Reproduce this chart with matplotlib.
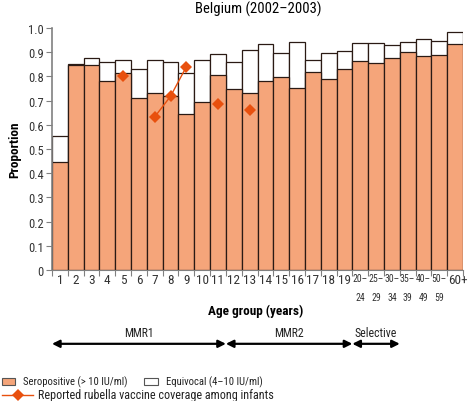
import numpy as np
import matplotlib
matplotlib.use('Agg')
import matplotlib.pyplot as plt
from matplotlib import font_manager
from matplotlib.patches import Rectangle
from matplotlib.lines import Line2D

# narrowest installed sans we can find (reference uses a condensed face)
_installed = {f.name for f in font_manager.fontManager.ttflist}
_candidates = ['Roboto Condensed', 'Liberation Sans Narrow', 'Roboto', 'Liberation Sans']
FONT = next((c for c in _candidates if c in _installed), 'DejaVu Sans')
plt.rcParams['font.family'] = [FONT, 'DejaVu Sans']

# ---------------------------------------------------------------------------
# Data
# ---------------------------------------------------------------------------

AGE_TOP = ['1', '2', '3', '4', '5', '6', '7', '8', '9', '10', '11', '12', '13',
           '14', '15', '16', '17', '18', '19',
           '20–', '25–', '30–', '35–', '40–', '50–', '60+']
AGE_BOTTOM = [''] * 19 + ['24', '29', '34', '39', '49', '59', '']

SEROPOSITIVE = [0.445, 0.848, 0.846, 0.780, 0.815, 0.709, 0.730, 0.719, 0.646,
                0.694, 0.804, 0.749, 0.730, 0.780, 0.799, 0.753, 0.817, 0.788,
                0.832, 0.862, 0.855, 0.875, 0.900, 0.883, 0.888, 0.934]
# seropositive + equivocal (top of white box)
TOTAL = [0.552, 0.850, 0.877, 0.858, 0.869, 0.832, 0.869, 0.858, 0.815,
         0.866, 0.894, 0.860, 0.910, 0.935, 0.897, 0.943, 0.869, 0.897,
         0.904, 0.939, 0.937, 0.930, 0.943, 0.955, 0.945, 0.982]

# reported coverage, indexed by age group (NaN = gap)
COVERAGE = [np.nan, np.nan, np.nan, np.nan, 0.803, np.nan, 0.633, 0.718, 0.840,
            np.nan, 0.686, np.nan, 0.661] + [np.nan] * 13

PROGRAMMES = ['MMR1', 'MMR2', 'Selective']
PROG_SPAN = [(0, 11), (11, 19), (19, 22)]   # in bar-edge units

SERO_COLOR = '#F5A57A'
LINE_COLOR = '#E8500E'
EDGE = '#2a1a14'
AXIS_GREY = '#808080'
TEXT = '#222222'

# ---------------------------------------------------------------------------
# Figure
# ---------------------------------------------------------------------------

fig = plt.figure(figsize=(4.68, 4.02), dpi=100)
ax = fig.add_axes([52 / 468, 131 / 402, 411 / 468, 242 / 402])

x = np.arange(len(SEROPOSITIVE))
ax.bar(x, TOTAL, width=1.0, color='white', edgecolor=EDGE, linewidth=0.9)
ax.bar(x, SEROPOSITIVE, width=1.0, color=SERO_COLOR, edgecolor=EDGE, linewidth=0.9)
ax.plot(x, COVERAGE, color=LINE_COLOR, linewidth=1.0, marker='D',
        markersize=6.5, markeredgewidth=0)

ax.set_xlim(-0.5, len(x) - 0.5)
ax.set_ylim(0, 1.0)
ax.set_yticks(np.arange(0, 1.01, 0.1))
ax.set_yticklabels(['0'] + [f'{v:.1f}' for v in np.arange(0.1, 1.01, 0.1)])

# ticks at bar edges, labels at bar centres
ax.set_xticks(np.arange(-0.5, len(x)), labels=[])
ax.tick_params(axis='x', length=4, color=AXIS_GREY)
ax.tick_params(axis='y', length=4, color=AXIS_GREY, labelsize=9,
               labelcolor='#333333', pad=2)
for i, (top, bot) in enumerate(zip(AGE_TOP, AGE_BOTTOM)):
    small = bot != ''
    ax.text(i + (0.15 if top == '60+' else 0), -0.012, top, ha='center', va='top',
            fontsize=7 if small else 9.5, color='#333333')
    if small:
        ax.text(i, -0.09, bot, ha='center', va='top', fontsize=7,
                color='#333333')

for s in ('top', 'right'):
    ax.spines[s].set_visible(False)
ax.spines['left'].set_color(AXIS_GREY)
ax.spines['bottom'].set_color(AXIS_GREY)
ax.spines['left'].set_linewidth(1.2)

ax.set_ylabel('Proportion', fontsize=9.5, fontweight='bold', labelpad=5)
fig.text(256 / 468, 1 - 311 / 402, 'Age group (years)', ha='center', va='center',
         fontsize=9.5, fontweight='bold')
fig.text(258 / 468, 1 - 9 / 402, 'Belgium (2002–2003)', ha='center',
         va='center', fontsize=10.5)

# programme arrows
arrow_y = -0.305
for name, (a, b) in zip(PROGRAMMES, PROG_SPAN):
    ax.annotate('', xy=(a - 0.5, arrow_y), xytext=(b - 0.5, arrow_y),
                xycoords='data', annotation_clip=False,
                arrowprops=dict(arrowstyle='<|-|>', color='black', lw=1.6,
                                mutation_scale=11, shrinkA=0, shrinkB=0))
    ax.text((a + b) / 2 - 0.5, arrow_y + 0.02, name, ha='center',
            va='bottom', fontsize=8.5, color=TEXT)

# legend
fig.patches.append(Rectangle((2 / 468, 1 - 386 / 402), 13 / 468, 7 / 402,
                             transform=fig.transFigure, facecolor=SERO_COLOR,
                             edgecolor='#555555', linewidth=0.8))
fig.text(23 / 468, 1 - 382 / 402, 'Seropositive (> 10 IU/ml)', va='center',
         fontsize=7.7, color=TEXT)
fig.patches.append(Rectangle((144 / 468, 1 - 386 / 402), 14 / 468, 7 / 402,
                             transform=fig.transFigure, facecolor='white',
                             edgecolor='#555555', linewidth=0.8))
fig.text(166 / 468, 1 - 382 / 402, 'Equivocal (4–10 IU/ml)', va='center',
         fontsize=7.7, color=TEXT)
fig.lines.append(Line2D([2 / 468, 33 / 468], [1 - 396 / 402] * 2,
                        transform=fig.transFigure, color=LINE_COLOR, lw=1.0))
fig.lines.append(Line2D([18 / 468], [1 - 396 / 402], transform=fig.transFigure,
                        color=LINE_COLOR, marker='D', markersize=6.5,
                        markeredgewidth=0))
fig.text(38 / 468, 1 - 396 / 402, 'Reported rubella vaccine coverage among infants',
         va='center', fontsize=8.7, color=TEXT)

fig.savefig('out.png', dpi=100)
